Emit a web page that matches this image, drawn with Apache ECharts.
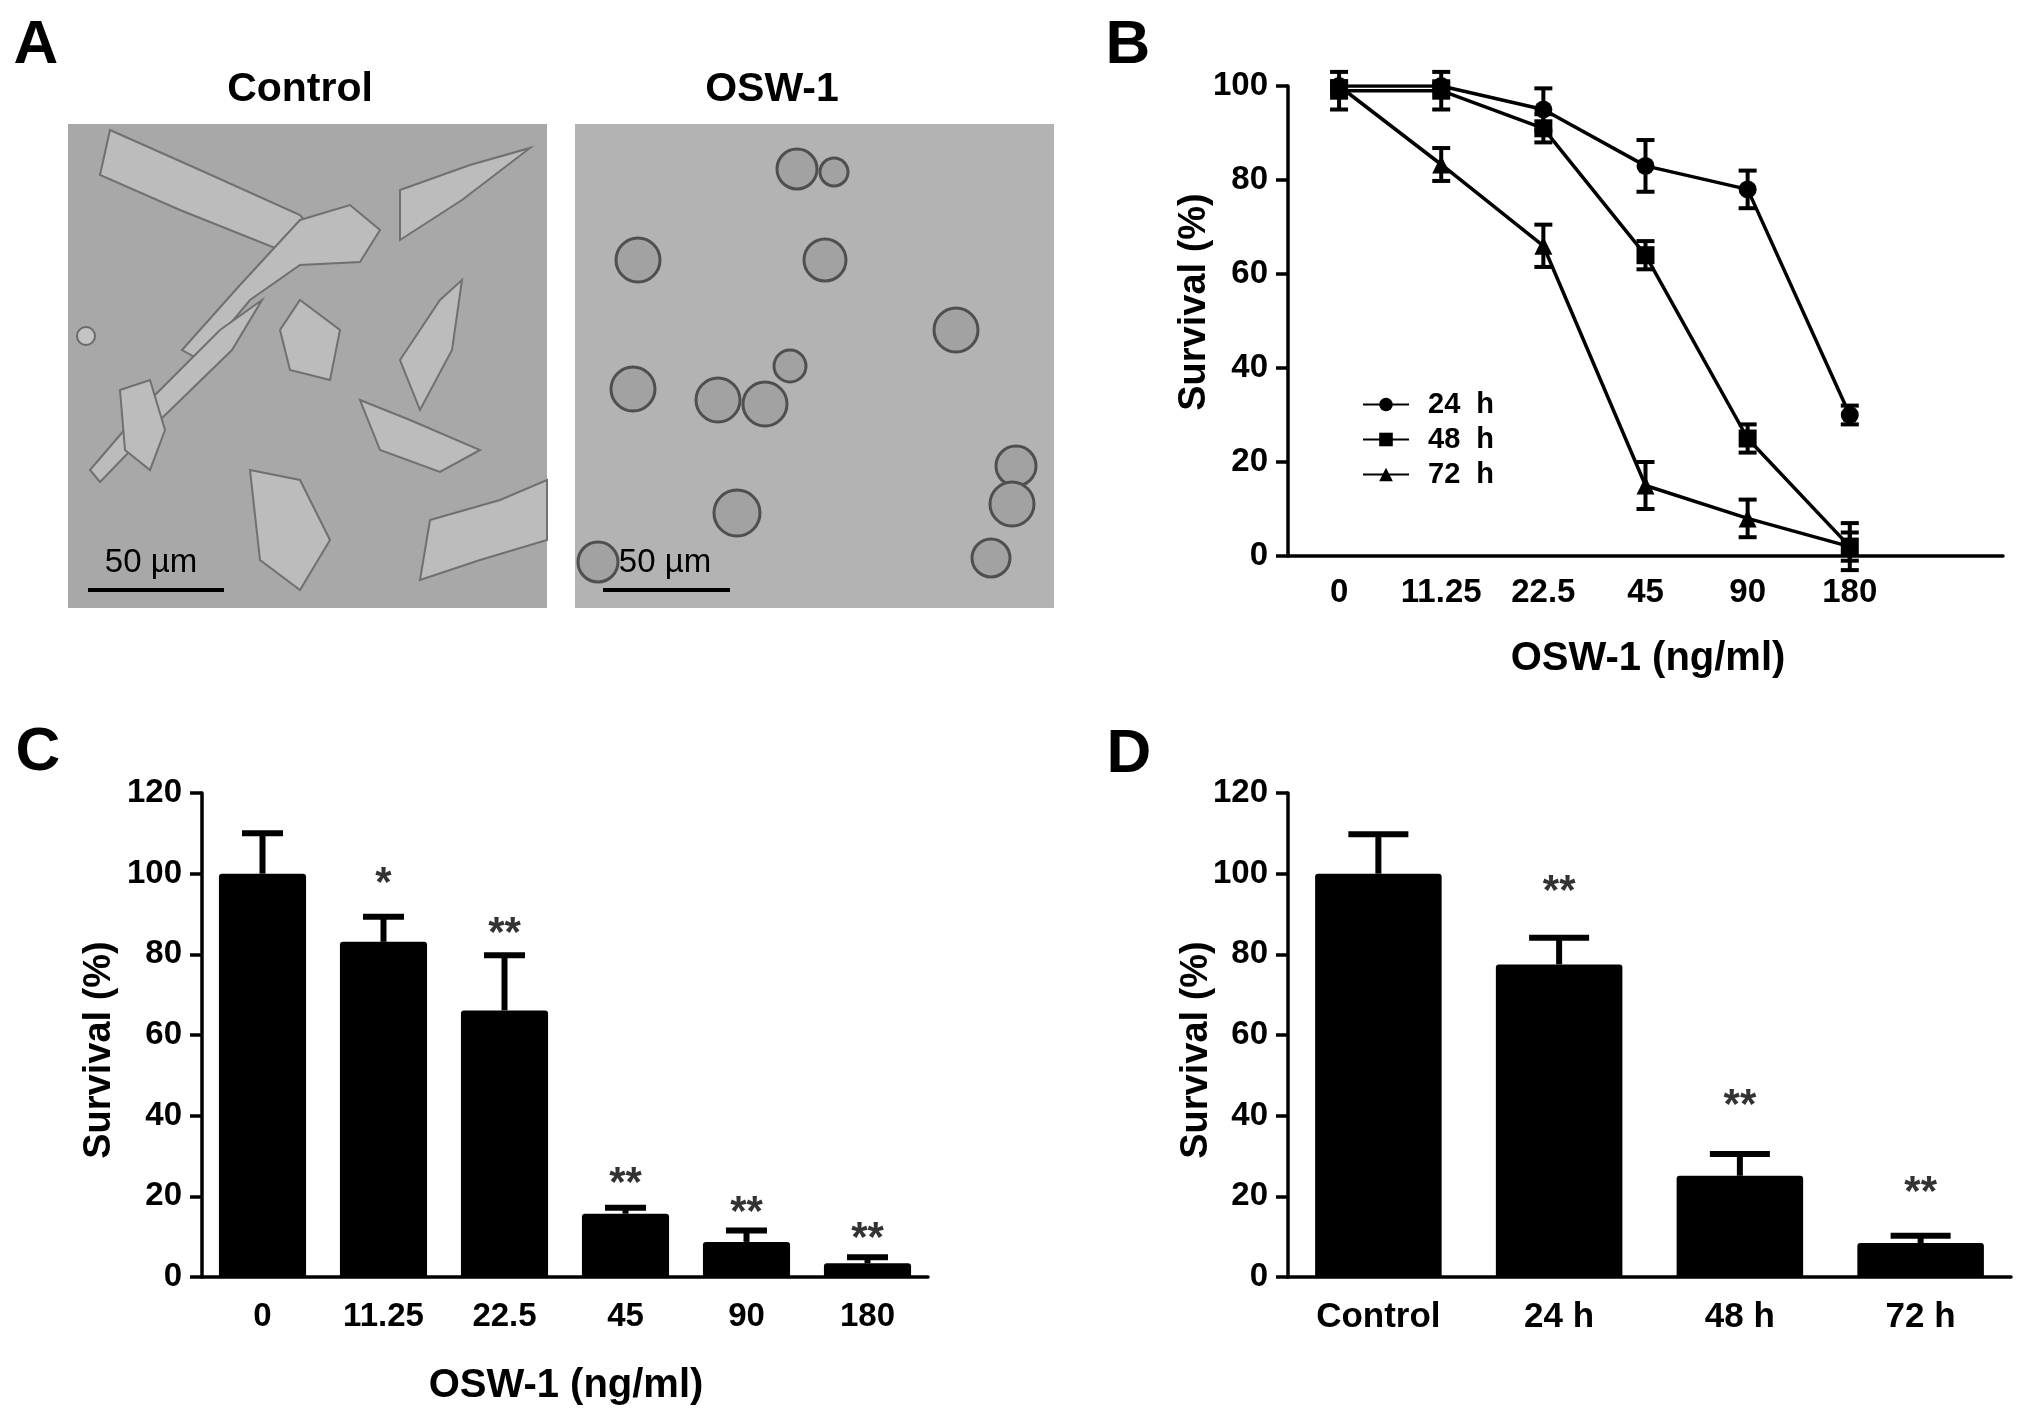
<!DOCTYPE html>
<html>
<head>
<meta charset="utf-8">
<script src="https://cdn.jsdelivr.net/npm/echarts@6/dist/echarts.min.js"></script>
<style>
  html, body { margin: 0; padding: 0; background: #fff; }
  #chart { width: 2031px; height: 1420px; }
</style>
</head>
<body>
<div id="chart"></div>
<script>
// panel B: dose-response curves (last category is an empty slot on the axis)
var doseLabels = ['0', '11.25', '22.5', '45', '90', '180', ''];
var surv24 = [100, 100, 95, 83, 78, 30];
var sd24   = [1, 1, 4.5, 5.5, 4, 2];
var surv48 = [99, 99, 91, 64, 25, 2];
var sd48   = [4, 4, 3, 3, 3, 3];
var surv72 = [100, 83.3, 66, 15, 8, 2];
var sd72   = [1, 3.5, 4.5, 5, 4, 5];

// panel C: 72 h survival by dose
var barDose  = ['0', '11.25', '22.5', '45', '90', '180'];
var barSurv  = [100, 83.1, 66.1, 15.7, 8.7, 3.4];
var barSd    = [10, 6.2, 13.7, 1.5, 2.8, 1.5];
var barStars = ['', '*', '**', '**', '**', '**'];
var barStarAt = [0, 99.7, 87.5, 25.4, 18.2, 11.7];

// panel D: survival by time
var timeLabels = ['Control', '24 h', '48 h', '72 h'];
var timeSurv  = [100, 77.5, 25.1, 8.4];
var timeSd    = [9.8, 6.6, 5.4, 1.8];
var timeStars = ['', '**', '**', '**'];
var timeStarAt = [0, 97.8, 44.8, 23.2];

var FONT = "'Liberation Sans', Arial, sans-serif";

function errorBar(capW, lw, upperOnly) {
  return function (params, api) {
    var i = api.value(0);
    var lo = api.coord([i, api.value(1)]);
    var hi = api.coord([i, api.value(2)]);
    var st = { stroke: '#000', lineWidth: lw };
    var kids = [
      { type: 'line', shape: { x1: hi[0], y1: lo[1], x2: hi[0], y2: hi[1] }, style: st },
      { type: 'line', shape: { x1: hi[0] - capW / 2, y1: hi[1], x2: hi[0] + capW / 2, y2: hi[1] }, style: st }
    ];
    if (!upperOnly) {
      kids.push({ type: 'line', shape: { x1: lo[0] - capW / 2, y1: lo[1], x2: lo[0] + capW / 2, y2: lo[1] }, style: st });
    }
    return { type: 'group', children: kids };
  };
}

function rangeData(vals, sds, upperOnly) {
  return vals.map(function (v, i) {
    return upperOnly ? [i, v, v + sds[i]] : [i, v - sds[i], v + sds[i]];
  });
}

function starData(stars, at) {
  var out = [];
  stars.forEach(function (s, i) { if (s) out.push([i, at[i]]); });
  return out;
}

function catAxis(grid, labels, size, margin) {
  return {
    type: 'category', gridIndex: grid, data: labels,
    axisLine: { lineStyle: { color: '#000', width: 3.5 } },
    axisTick: { alignWithLabel: true, length: 12, lineStyle: { color: '#000', width: 3.5 } },
    axisLabel: { color: '#000', fontSize: size, fontWeight: 'bold', fontFamily: FONT, margin: margin, interval: 0 },
    splitLine: { show: false }
  };
}

function valAxis(grid, max) {
  return {
    type: 'value', gridIndex: grid, min: 0, max: max, interval: 20,
    axisLine: { show: true, lineStyle: { color: '#000', width: 3.5 } },
    axisTick: { show: true, length: 12, lineStyle: { color: '#000', width: 3.5 } },
    axisLabel: { color: '#000', fontSize: 33, fontWeight: 'bold', fontFamily: FONT, margin: 20 },
    splitLine: { show: false }
  };
}

function lineSeries(name, vals, sym) {
  return {
    type: 'line', name: name, xAxisIndex: 0, yAxisIndex: 0, data: vals,
    symbol: sym, symbolSize: 18, z: 3,
    itemStyle: { color: '#000' },
    lineStyle: { color: '#000', width: 3.5 }
  };
}

function errSeries(x, y, data, capW, lw, upperOnly) {
  return {
    type: 'custom', xAxisIndex: x, yAxisIndex: y, data: data, z: 4,
    encode: { x: 0, y: [1, 2] },
    renderItem: errorBar(capW, lw, upperOnly)
  };
}

function starSeries(x, y, stars, at) {
  return {
    type: 'scatter', xAxisIndex: x, yAxisIndex: y, data: starData(stars, at),
    symbolSize: 1, itemStyle: { color: 'rgba(0,0,0,0)' }, z: 5,
    label: {
      show: true, position: 'inside', offset: [0, 10],
      formatter: function (p) { return stars[p.value[0]]; },
      color: '#000', fontSize: 42, fontWeight: 'bold', fontFamily: FONT
    }
  };
}

function txt(x, y, s, size, weight, rot) {
  return {
    type: 'text', x: x, y: y, rotation: rot || 0,
    style: { text: s, fill: '#000', font: (weight || 'bold') + ' ' + size + 'px ' + FONT, align: 'center', verticalAlign: 'middle' }
  };
}

// decorative stand-ins for the micrographs in panel A
function poly(pts) {
  return { type: 'polygon', shape: { points: pts }, style: { fill: '#bcbcbc', stroke: '#707070', lineWidth: 2 } };
}
function cell(cx, cy, r) {
  return { type: 'circle', shape: { cx: cx, cy: cy, r: r }, style: { fill: '#a2a2a2', stroke: '#4f4f4f', lineWidth: 3 } };
}

var graphics = [
  { type: 'rect', shape: { x: 68, y: 124, width: 479, height: 484 }, style: { fill: '#a8a8a8' } },
  { type: 'rect', shape: { x: 575, y: 124, width: 479, height: 484 }, style: { fill: '#b3b3b3' } },
  poly([[110,130],[200,170],[300,215],[330,250],[280,250],[180,210],[100,175]]),
  poly([[300,220],[350,205],[380,230],[360,262],[300,265],[250,300],[200,360],[182,350],[240,285]]),
  poly([[400,190],[470,165],[530,148],[462,200],[400,240]]),
  poly([[90,470],[150,400],[220,330],[262,300],[232,350],[160,420],[100,482]]),
  poly([[250,470],[300,480],[330,540],[300,590],[260,560]]),
  poly([[400,360],[440,300],[462,280],[452,350],[420,410]]),
  poly([[360,400],[410,420],[480,450],[440,472],[380,450]]),
  poly([[430,520],[500,500],[547,480],[547,540],[480,560],[420,580]]),
  poly([[120,390],[150,380],[165,430],[150,470],[125,450]]),
  poly([[300,300],[340,330],[330,380],[290,370],[280,330]]),
  { type: 'circle', shape: { cx: 86, cy: 336, r: 9 }, style: { fill: '#c4c4c4', stroke: '#6a6a6a', lineWidth: 2 } },
  cell(797, 169, 20), cell(834, 172, 14), cell(638, 260, 22), cell(825, 260, 21),
  cell(956, 330, 22), cell(633, 389, 22), cell(718, 400, 22), cell(765, 404, 22),
  cell(790, 366, 16), cell(737, 513, 23), cell(1016, 466, 20), cell(1012, 504, 22),
  cell(991, 558, 19), cell(598, 562, 20),
  { type: 'line', shape: { x1: 88, y1: 590, x2: 224, y2: 590 }, style: { stroke: '#000', lineWidth: 4 } },
  { type: 'line', shape: { x1: 603, y1: 590, x2: 730, y2: 590 }, style: { stroke: '#000', lineWidth: 4 } },
  txt(151, 563, '50 µm', 33, 'normal'),
  txt(665, 563, '50 µm', 33, 'normal'),
  txt(300, 90, 'Control', 41),
  txt(772, 90, 'OSW-1', 41),
  // panel letters
  txt(36, 46, 'A', 62), txt(1128, 46, 'B', 62), txt(38, 753, 'C', 62), txt(1129, 755, 'D', 62),
  // axis titles
  txt(1195, 302, 'Survival (%)', 38, 'bold', Math.PI / 2),
  txt(100, 1050, 'Survival (%)', 38, 'bold', Math.PI / 2),
  txt(1197, 1050, 'Survival (%)', 38, 'bold', Math.PI / 2),
  txt(1648, 659, 'OSW-1 (ng/ml)', 40),
  txt(566, 1386, 'OSW-1 (ng/ml)', 40)
];

var chart = echarts.init(document.getElementById('chart'), null, { renderer: 'canvas' });

chart.setOption({
  backgroundColor: '#fff',
  animation: false,
  textStyle: { fontFamily: FONT },
  grid: [
    { left: 1288, top: 86, width: 715, height: 470 },
    { left: 202, top: 793, width: 726, height: 484 },
    { left: 1288, top: 793, width: 723, height: 484 }
  ],
  xAxis: [
    catAxis(0, doseLabels, 33, 20),
    catAxis(1, barDose, 33, 23),
    catAxis(2, timeLabels, 35, 23)
  ],
  yAxis: [valAxis(0, 100), valAxis(1, 120), valAxis(2, 120)],
  legend: {
    orient: 'vertical', left: 1357, top: 385,
    itemWidth: 46, itemHeight: 17, itemGap: 6,
    data: ['24  h', '48  h', '72  h'],
    textStyle: { color: '#000', fontSize: 29, fontWeight: 'bold', fontFamily: FONT, lineHeight: 29, padding: [0, 0, 0, 14] }
  },
  graphic: graphics,
  series: [
    errSeries(0, 0, rangeData(surv24, sd24), 18, 4),
    errSeries(0, 0, rangeData(surv48, sd48), 18, 4),
    errSeries(0, 0, rangeData(surv72, sd72), 18, 4),
    lineSeries('24  h', surv24, 'circle'),
    lineSeries('48  h', surv48, 'rect'),
    lineSeries('72  h', surv72, 'triangle'),

    {
      type: 'bar', xAxisIndex: 1, yAxisIndex: 1, data: barSurv, barWidth: '72%',
      itemStyle: { color: '#000', borderRadius: [3, 3, 0, 0] }
    },
    errSeries(1, 1, rangeData(barSurv, barSd, true), 41, 6, true),
    starSeries(1, 1, barStars, barStarAt),

    {
      type: 'bar', xAxisIndex: 2, yAxisIndex: 2, data: timeSurv, barWidth: '70%',
      itemStyle: { color: '#000', borderRadius: [3, 3, 0, 0] }
    },
    errSeries(2, 2, rangeData(timeSurv, timeSd, true), 60, 6, true),
    starSeries(2, 2, timeStars, timeStarAt)
  ]
});
</script>
</body>
</html>
